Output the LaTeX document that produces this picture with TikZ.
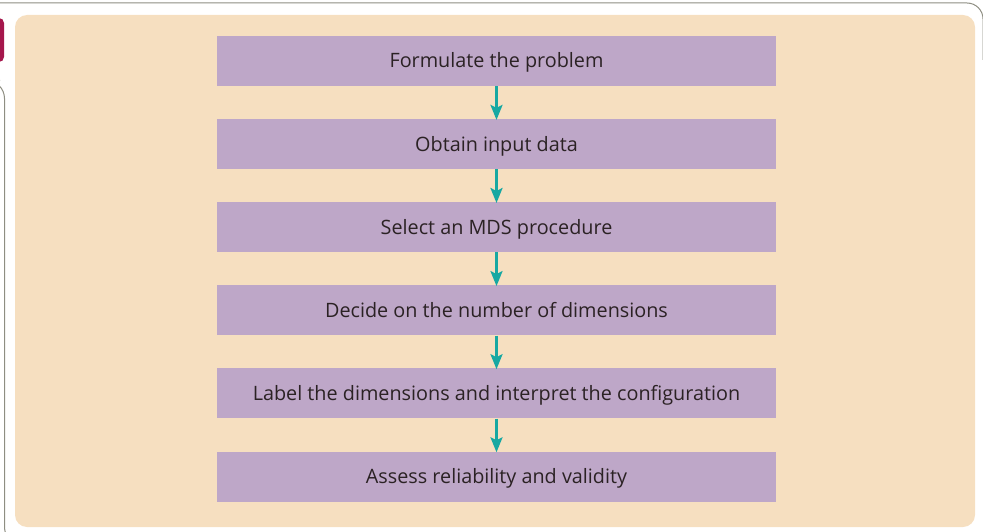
\documentclass[tikz,border=0pt]{standalone}
\usepackage{fontspec}
\setmainfont{Open Sans}
\usetikzlibrary{arrows.meta,positioning}

\definecolor{panelbg}{HTML}{F6DFC0}
\definecolor{stepfill}{HTML}{BEA7C8}
\definecolor{arrowteal}{HTML}{17A8A2}
\definecolor{tabred}{HTML}{A5174C}
\definecolor{framegray}{HTML}{8E8E82}
\definecolor{steptext}{HTML}{2B2224}

\begin{document}
\begin{tikzpicture}[
  x=1pt, y=-1pt,
  font=\fontsize{19.8}{22}\selectfont,
  stepbox/.style={fill=stepfill, minimum width=559pt, minimum height=50pt,
                  inner sep=0pt, align=center, text=steptext,
                  text height=17pt, text depth=3pt},
  arr/.style={-{Stealth[length=15pt, width=12pt, inset=3pt]},
              line width=2.6pt, draw=arrowteal, shorten >=-1pt},
]
\useasboundingbox (0,0) rectangle (983,532);

% Frame and tab
\draw[framegray, line width=1pt, rounded corners=16pt] (0,3) -- (983,3) -- (983,60);
\draw[framegray, line width=1pt, rounded corners=18pt] (0,80.5) -- (4.5,80.5) -- (4.5,545) -- (60,545);
\fill[tabred, rounded corners=5pt] (-10,18) rectangle (4,62);

% Panel
\fill[panelbg, rounded corners=12pt] (15,15) rectangle (975,527);

% Steps
\node[stepbox] (formulate) at (496.5,61) {Formulate the problem};
\node[stepbox, below=32.7pt of formulate] (obtain) {Obtain input data};
\node[stepbox, below=32.7pt of obtain] (select) {Select an MDS procedure};
\node[stepbox, below=32.7pt of select] (decide) {Decide on the number of dimensions};
\node[stepbox, below=32.7pt of decide] (label) {Label the dimensions and interpret the configuration};
\node[stepbox, below=32.7pt of label] (assess) {Assess reliability and validity};

% Arrows
\draw[arr] (formulate) -- (obtain);
\draw[arr] (obtain) -- (select);
\draw[arr] (select) -- (decide);
\draw[arr] (decide) -- (label);
\draw[arr] (label) -- (assess);

\end{tikzpicture}
\end{document}
